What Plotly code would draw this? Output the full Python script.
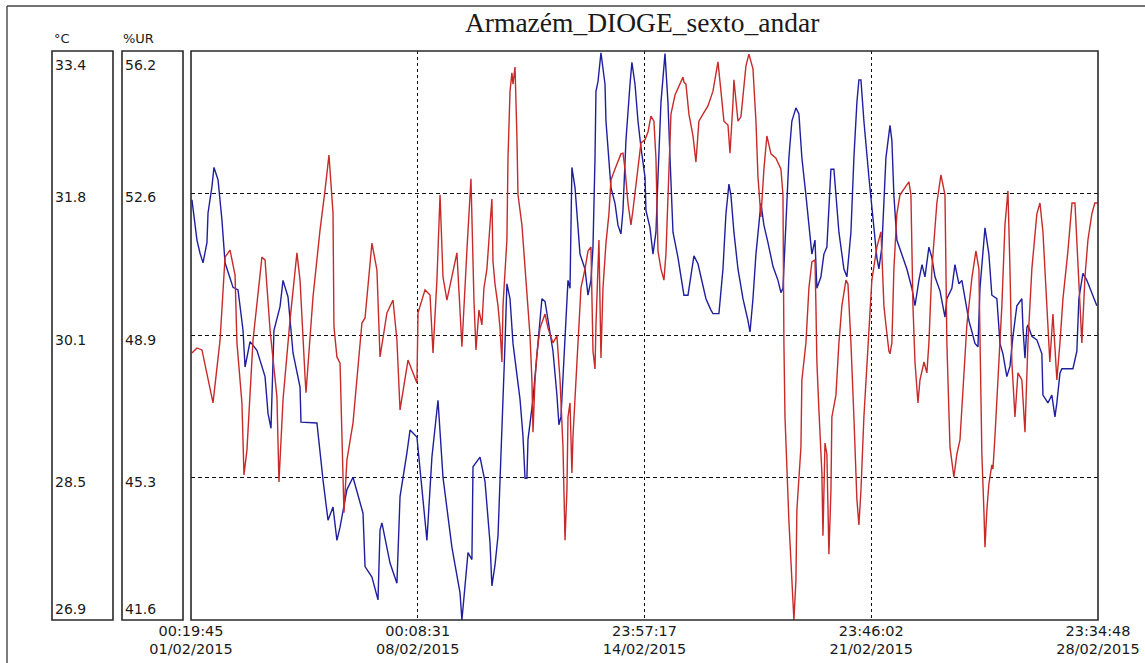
import plotly.graph_objects as go

# ---- data (hours since 01/02/2015 00:19:45) ----
temp_hours = [
    0.7, 4.4, 6.7, 8.9, 11.8, 12.6, 15.5, 17.0, 20.0, 22.9,
    25.2, 31.1, 34.8, 38.5, 40.0, 43.7, 48.8, 54.8, 57.0, 59.2,
    61.4, 65.9, 68.1, 71.8, 75.5, 80.7, 81.4, 93.2, 97.7, 101.4,
    105.1, 108.0, 110.3, 115.4, 119.9, 127.3, 128.8, 133.9, 138.4, 139.9,
    141.3, 147.3, 152.4, 154.7, 159.8, 162.1, 167.2, 174.6, 178.3, 182.8,
    186.5, 193.1, 199.1, 200.5, 205.0, 207.9, 208.7, 213.9, 217.6, 219.8,
    221.3, 222.7, 225.0, 227.2, 228.7, 230.1, 232.4, 233.8, 236.1, 238.3,
    241.2, 243.5, 245.7, 247.2, 248.6, 249.4, 253.1, 256.0, 259.7, 262.0,
    264.2, 267.9, 270.8, 272.3, 273.8, 275.3, 278.2, 279.0, 280.5, 281.2,
    281.9, 284.2, 286.4, 287.9, 291.6, 293.8, 296.0, 297.5, 299.0, 299.7,
    301.2, 303.4, 306.4, 307.1, 310.8, 313.8, 316.0, 318.2, 319.7, 321.9,
    324.9, 326.3, 328.6, 330.8, 333.0, 336.0, 336.7, 339.7, 341.9, 344.1,
    345.6, 347.8, 350.8, 353.0, 354.5, 356.7, 360.4, 364.1, 364.8, 367.8,
    370.0, 372.2, 375.2, 377.4, 381.1, 384.8, 386.3, 390.7, 393.7, 395.9,
    398.1, 399.6, 401.8, 404.8, 408.5, 412.2, 413.7, 415.9, 418.1, 421.8,
    424.0, 427.0, 430.7, 434.4, 436.6, 438.1, 440.3, 442.5, 444.7, 447.7,
    449.9, 452.1, 455.1, 457.3, 459.5, 461.8, 462.5, 463.2, 466.2, 468.4,
    470.6, 472.1, 473.6, 475.8, 477.3, 479.5, 483.2, 485.4, 488.4, 490.6,
    492.8, 494.3, 495.8, 498.0, 501.7, 505.4, 507.6, 509.1, 511.3, 514.3,
    516.5, 517.3, 518.7, 520.2, 522.4, 526.1, 529.8, 533.5, 535.8, 538.7,
    541.0, 543.2, 546.1, 548.3, 550.6, 554.3, 558.0, 559.4, 563.1, 565.4,
    568.3, 570.5, 572.8, 575.7, 578.0, 580.2, 582.4, 583.9, 587.6, 590.5,
    592.7, 596.4, 597.2, 598.7, 600.9, 603.8, 606.1, 608.3, 611.2, 614.9,
    615.7, 617.2, 618.6, 619.4, 622.3, 626.0, 629.7, 630.5, 634.2, 637.1,
    639.4, 640.8, 643.1, 644.5, 652.7, 655.6, 657.1, 660.1, 663.0, 665.3,
    667.5, 670.4,
]
temp_c = [
    31.70, 31.24, 31.09, 30.98, 31.21, 31.55, 31.85, 32.07, 31.93, 31.47,
    30.98, 30.70, 30.67, 30.21, 29.79, 30.08, 29.98, 29.68, 29.26, 29.09,
    30.21, 30.48, 30.78, 30.59, 29.95, 29.56, 29.16, 29.15, 28.50, 28.04,
    28.19, 27.81, 27.96, 28.39, 28.53, 28.12, 27.51, 27.39, 27.13, 27.93,
    28.01, 27.55, 27.32, 28.31, 28.81, 29.07, 28.99, 27.81, 28.76, 29.41,
    28.53, 27.73, 27.21, 26.90, 27.67, 27.59, 28.65, 28.76, 28.48, 28.10,
    27.78, 27.29, 27.53, 27.86, 28.45, 29.22, 30.06, 30.74, 30.57, 30.06,
    29.72, 29.42, 29.00, 28.52, 28.52, 28.96, 29.42, 29.97, 30.57, 30.54,
    30.32, 29.97, 29.47, 29.13, 29.22, 29.72, 30.57, 30.78, 30.69, 31.75,
    32.07, 31.84, 31.41, 31.08, 30.91, 30.61, 30.78, 31.16, 32.18, 32.94,
    33.05, 33.38, 33.02, 32.60, 31.84, 31.66, 31.41, 31.31, 31.58, 32.38,
    33.02, 33.27, 33.02, 32.60, 32.30, 31.96, 31.58, 31.38, 31.08, 31.33,
    31.96, 32.81, 33.37, 32.81, 32.18, 31.33, 31.04, 30.69, 30.61, 30.61,
    30.82, 31.06, 30.97, 30.82, 30.57, 30.44, 30.40, 30.40, 30.91, 31.54,
    31.88, 31.75, 31.33, 30.91, 30.57, 30.32, 30.19, 30.57, 31.08, 31.66,
    31.41, 31.21, 30.94, 30.78, 30.64, 30.69, 31.54, 32.18, 32.60, 32.75,
    32.68, 32.18, 31.75, 31.41, 31.08, 31.24, 30.96, 30.69, 30.82, 31.08,
    31.16, 31.54, 32.05, 32.05, 31.75, 31.33, 30.91, 30.82, 31.33, 32.18,
    32.81, 33.07, 33.07, 32.60, 31.96, 31.33, 31.04, 30.91, 31.16, 32.18,
    32.47, 32.55, 32.38, 31.75, 31.24, 31.08, 30.91, 30.69, 30.49, 30.78,
    30.96, 30.82, 31.16, 31.04, 30.82, 30.66, 30.36, 30.57, 30.69, 30.96,
    30.74, 30.78, 30.57, 30.32, 30.19, 30.06, 30.02, 30.69, 31.38, 31.08,
    30.61, 30.57, 30.40, 30.06, 29.94, 29.68, 29.80, 30.14, 30.49, 30.57,
    30.24, 29.89, 30.24, 30.27, 30.14, 30.10, 29.94, 29.47, 29.38, 29.47,
    29.22, 29.38, 29.72, 29.77, 29.77, 29.97, 30.57, 30.86, 30.78, 30.69,
    30.61, 30.49,
]

rh_hours = [
    0.7, 4.4, 8.1, 11.8, 16.3, 21.5, 25.2, 28.9, 32.6, 34.0,
    37.7, 39.2, 41.4, 45.9, 52.5, 54.8, 58.5, 63.6, 65.1, 68.1,
    73.3, 78.4, 80.7, 84.4, 85.1, 90.3, 95.5, 99.2, 102.1, 105.1,
    105.8, 108.0, 110.3, 113.2, 115.4, 119.9, 126.5, 128.8, 133.9, 137.6,
    138.4, 139.9, 145.0, 149.5, 152.4, 154.7, 160.6, 164.3, 167.2, 168.0,
    173.2, 176.9, 179.1, 182.0, 184.3, 186.5, 189.4, 196.8, 200.5, 204.2,
    207.2, 209.4, 210.9, 213.1, 215.3, 216.8, 219.0, 221.3, 222.7, 223.5,
    225.0, 227.2, 228.7, 230.1, 230.9, 233.8, 234.6, 236.1, 237.5, 238.3,
    239.8, 241.2, 242.0, 244.9, 247.2, 249.4, 250.9, 252.3, 253.1, 254.6,
    256.0, 258.3, 262.0, 264.2, 267.9, 270.8, 273.1, 275.3, 276.8, 278.2,
    279.0, 280.5, 281.9, 282.7, 284.2, 286.4, 287.9, 288.6, 291.6, 293.8,
    296.0, 297.5, 299.0, 299.7, 301.9, 303.4, 304.9, 307.1, 309.3, 310.8,
    313.8, 316.0, 318.2, 319.7, 321.2, 323.4, 325.6, 327.1, 329.3, 330.8,
    333.0, 336.0, 338.2, 340.4, 342.6, 344.1, 345.6, 347.8, 350.0, 351.5,
    353.7, 355.2, 358.2, 360.4, 364.1, 364.8, 366.3, 368.5, 371.5, 373.7,
    375.9, 378.9, 382.6, 386.3, 390.0, 392.2, 394.4, 397.4, 398.9, 401.1,
    401.8, 404.8, 407.0, 410.7, 412.9, 415.9, 418.1, 419.6, 421.8, 424.0,
    426.2, 429.2, 432.9, 436.6, 438.1, 438.8, 439.6, 442.5, 444.0, 444.7,
    446.2, 447.7, 448.4, 451.4, 452.1, 455.1, 457.3, 459.5, 461.8, 462.5,
    463.2, 464.7, 466.9, 467.7, 469.2, 470.6, 472.1, 473.6, 474.3, 477.3,
    479.5, 481.7, 484.7, 486.2, 488.4, 490.6, 492.8, 494.3, 495.8, 498.0,
    501.7, 503.9, 507.6, 510.6, 511.3, 512.8, 514.3, 516.5, 517.3, 518.7,
    520.2, 522.4, 524.7, 528.4, 531.3, 532.8, 534.3, 535.8, 538.0, 539.5,
    542.5, 544.6, 546.1, 548.3, 552.0, 555.0, 558.0, 559.4, 560.9, 561.7,
    564.6, 566.8, 569.1, 572.0, 574.2, 578.0, 580.9, 583.1, 583.9, 585.3,
    586.8, 587.6, 589.0, 590.5, 592.7, 593.5, 595.0, 597.2, 600.1, 602.4,
    604.6, 606.1, 607.5, 609.8, 612.0, 614.9, 617.2, 619.4, 622.3, 626.0,
    628.3, 630.5, 633.4, 635.6, 637.9, 640.8, 643.1, 645.3, 649.0, 652.0,
    654.2, 656.4, 659.3, 661.6, 663.8, 666.7, 668.9, 671.2,
]
rh_pct = [
    48.45, 48.58, 48.53, 47.94, 47.17, 48.78, 50.91, 51.09, 50.45, 48.71,
    47.17, 45.32, 45.96, 48.78, 50.91, 50.84, 49.04, 47.32, 45.14, 47.25,
    49.30, 51.02, 50.32, 47.84, 47.43, 49.89, 51.61, 52.63, 53.53, 52.04,
    49.12, 48.35, 48.19, 44.35, 45.71, 46.66, 49.22, 49.35, 51.27, 50.58,
    49.89, 48.35, 49.48, 49.81, 48.78, 46.99, 48.27, 47.94, 47.68, 49.48,
    50.07, 49.94, 48.45, 50.32, 52.51, 50.40, 49.81, 51.02, 48.61, 51.09,
    52.92, 49.81, 48.53, 49.55, 49.17, 50.12, 50.61, 51.74, 52.40, 50.79,
    50.22, 49.66, 49.09, 48.22, 49.66, 51.35, 53.45, 55.17, 55.64, 55.35,
    55.79, 54.02, 52.51, 51.74, 50.61, 49.66, 48.89, 47.76, 46.42, 47.76,
    48.43, 49.09, 49.45, 49.09, 48.71, 48.89, 47.76, 46.04, 43.65, 44.91,
    46.81, 47.17, 45.37, 46.32, 47.17, 48.71, 49.66, 50.12, 50.61, 51.07,
    51.17, 48.50, 48.04, 49.17, 51.35, 48.32, 50.12, 51.27, 52.02, 52.89,
    53.17, 53.35, 53.56, 53.58, 53.17, 52.30, 51.74, 52.12, 52.79, 53.17,
    53.84, 53.92, 54.12, 54.53, 54.40, 53.45, 51.07, 50.61, 50.32, 50.99,
    53.45, 54.58, 55.07, 55.25, 55.53, 55.40, 55.35, 54.58, 54.02, 53.35,
    54.40, 54.58, 54.79, 55.17, 55.92, 55.17, 54.40, 54.30, 53.58, 54.87,
    55.46, 54.40, 54.51, 55.82, 56.12, 55.74, 54.40, 52.97, 51.94, 53.17,
    54.02, 53.56, 53.45, 53.17, 52.51, 48.71, 46.81, 44.14, 43.01, 42.42,
    41.60, 42.63, 44.42, 46.04, 47.76, 48.71, 50.12, 50.79, 50.84, 49.66,
    48.22, 46.99, 45.37, 43.76, 46.14, 45.86, 43.29, 44.91, 46.81, 47.37,
    48.71, 49.66, 50.32, 50.22, 48.71, 46.81, 44.70, 44.04, 44.91, 46.81,
    49.17, 50.32, 51.17, 51.56, 50.99, 49.66, 49.17, 48.50, 48.43, 48.71,
    50.61, 52.02, 52.51, 52.68, 52.84, 52.51, 49.66, 48.22, 47.17, 47.76,
    48.22, 47.94, 48.71, 50.61, 52.30, 53.02, 52.51, 48.71, 46.81, 46.04,
    45.27, 45.86, 46.22, 47.76, 49.17, 50.40, 51.07, 50.61, 48.71, 45.86,
    44.42, 43.47, 44.42, 45.09, 45.58, 45.47, 46.32, 47.76, 49.66, 51.74,
    52.61, 50.61, 48.22, 46.81, 47.94, 47.76, 46.42, 48.71, 50.61, 52.02,
    52.30, 51.56, 49.84, 48.22, 49.45, 47.76, 48.71, 49.84, 51.07, 52.30,
    52.30, 50.61, 48.71, 50.40, 51.35, 52.02, 52.30, 52.30,
]

# axis ticks / labels
tick_hours = [0, 167.81, 335.63, 503.44, 671.25]
tick_times = ["00:19:45", "00:08:31", "23:57:17", "23:46:02", "23:34:48"]
tick_dates = ["01/02/2015", "08/02/2015", "14/02/2015", "21/02/2015", "28/02/2015"]

temp_range = [26.9, 33.4]
rh_range = [41.6, 56.2]
temp_grid = [28.525, 30.15, 31.775]
rh_grid = [45.25, 48.9, 52.55]
temp_grid_labels = ["28.5", "30.1", "31.8"]
rh_grid_labels = ["45.3", "48.9", "52.6"]

title_text = "Armazém_DIOGE_sexto_andar"

# ---- figure (page body margin is removed, so figure == window) ----
W, H = 1145, 663
L, R, T, B = 191, 1098, 51, 620   # plot area in window pixels
pw, ph = R - L, B - T


def px(x):
    return (x - L) / pw


def py(y):
    return (B - y) / ph


FONT = "DejaVu Sans"
TXT = "#1a1a1a"

fig = go.Figure()
fig.add_trace(go.Scatter(x=rh_hours, y=rh_pct, yaxis="y2", mode="lines",
                         line=dict(color="#c82a2a", width=1.4), name="%UR",
                         hoverinfo="skip"))
fig.add_trace(go.Scatter(x=temp_hours, y=temp_c, yaxis="y", mode="lines",
                         line=dict(color="#1f1f9e", width=1.4), name="°C",
                         hoverinfo="skip"))

ticktext = [f"{a}<br>{b}" for a, b in zip(tick_times, tick_dates)]

fig.update_layout(
    width=W, height=H,
    margin=dict(l=L, r=W - R, t=T, b=H - B, pad=0, autoexpand=False),
    paper_bgcolor="white", plot_bgcolor="white",
    showlegend=False,
    font=dict(family=FONT, size=14, color=TXT),
    xaxis=dict(range=[tick_hours[0], tick_hours[-1]], tickmode="array",
               tickvals=tick_hours, ticktext=ticktext, showgrid=True,
               gridcolor="#111", gridwidth=1, griddash="3px,3px",
               zeroline=False, showline=False, ticks="", automargin=False,
               ticklabelstandoff=0,
               tickfont=dict(family=FONT, size=14.5, color=TXT)),
    yaxis=dict(range=temp_range, tickmode="array", tickvals=temp_grid,
               showgrid=True, gridcolor="#111", gridwidth=1,
               griddash="4px,3px", zeroline=False, showline=False,
               showticklabels=False, ticks="", automargin=False),
    yaxis2=dict(range=rh_range, overlaying="y", showgrid=False,
                zeroline=False, showline=False, showticklabels=False,
                ticks="", automargin=False),
)

shapes = []
border = dict(color="#2a2a2a", width=1.6)
frame = dict(color="#444", width=1.4)
# outer window frame (left and top edges)
shapes.append(dict(type="line", xref="paper", yref="paper",
                   x0=px(7), x1=px(7), y0=py(H + 2), y1=py(6), line=frame))
shapes.append(dict(type="line", xref="paper", yref="paper",
                   x0=px(7), x1=px(W + 2), y0=py(6), y1=py(6), line=frame))
# value boxes
for x0, x1 in [(52, 113), (122, 183)]:
    shapes.append(dict(type="rect", xref="paper", yref="paper",
                       x0=px(x0), x1=px(x1), y0=0, y1=1, line=border))
# plot frame
shapes.append(dict(type="rect", xref="paper", yref="paper",
                   x0=0, x1=1, y0=0, y1=1, line=border))
fig.update_layout(shapes=shapes)

ann = []
ann.append(dict(text=title_text, xref="paper", yref="paper", x=0.497,
                y=py(22), xanchor="center", yanchor="middle", showarrow=False,
                font=dict(family="Liberation Serif", size=27.5, color=TXT)))
ann.append(dict(text="°C", xref="paper", yref="paper", x=px(52), y=py(38),
                xanchor="left", yanchor="middle", showarrow=False,
                font=dict(family=FONT, size=13, color=TXT)))
ann.append(dict(text="%UR", xref="paper", yref="paper", x=px(121), y=py(38),
                xanchor="left", yanchor="middle", showarrow=False,
                font=dict(family=FONT, size=13, color=TXT)))
box_specs = [
    (53, "y", temp_range, temp_grid, temp_grid_labels),
    (123, "y2", rh_range, rh_grid, rh_grid_labels),
]
for xl, yr, rng, grid, labels in box_specs:
    ann.append(dict(text=f"{rng[1]:.1f}", xref="paper", yref="paper",
                    x=px(xl), y=py(65), xanchor="left", yanchor="middle",
                    showarrow=False))
    ann.append(dict(text=f"{rng[0]:.1f}", xref="paper", yref="paper",
                    x=px(xl), y=py(609), xanchor="left", yanchor="middle",
                    showarrow=False))
    for v, lab in zip(grid, labels):
        ann.append(dict(text=lab, xref="paper", yref=yr, x=px(xl), y=v,
                        yshift=-4, xanchor="left", yanchor="middle",
                        showarrow=False))
fig.update_layout(annotations=ann)

fig.write_html("out.html", config={"displayModeBar": False},
               post_script="document.body.style.margin='0';"
                           "document.body.style.overflow='hidden';")
